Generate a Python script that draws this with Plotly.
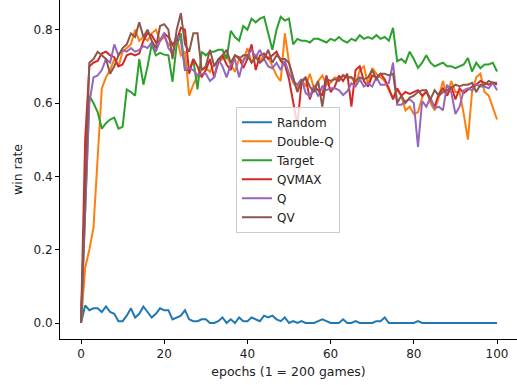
import plotly.graph_objects as go

epochs = list(range(101))

random_wr = [0, .048, .035, .04, .04, .03, .045, .03, .025, .005,
             .005, .02, .04, .015, .025, .045, .03, .015, .025, .04,
             .035, .035, .01, .015, .02, .035, .01, .005, .005, .01,
             .01, 0, 0, .005, .015, 0, .01, 0, .015, .005,
             .005, .015, .01, .005, .02, .015, .02, .01, .005, .015,
             0, .005, 0, .005, 0, 0, 0, .005, .01, .005,
             0, 0, 0, .01, 0, 0, .005, 0, 0, 0,
             0, .005, .005, .015, 0, 0, 0, 0, 0, 0,
             0, .005, 0, 0, 0, 0, 0, 0, 0, 0,
             0, 0, 0, 0, 0, 0, 0, 0, 0, 0, 0]

double_q = [0, .15, .2, .26, .45, .64, .67, .69, .72, .7,
            .74, .75, .76, .8, .77, .78, .77, .79, .8, .77,
            .78, .76, .755, .78, .73, .74, .62, .65, .675, .69,
            .695, .685, .705, .71, .72, .73, .705, .685, .72, .715,
            .75, .71, .73, .715, .73, .725, .7, .675, .66, .79,
            .71, .655, .64, .665, .645, .68, .64, .66, .675, .65,
            .655, .67, .665, .677, .668, .67, .65, .69, .7, .65,
            .695, .68, .67, .66, .635, .615, .635, .62, .58, .59,
            .57, .575, .615, .635, .6, .58, .615, .66, .62, .66,
            .63, .63, .57, .5, .63, .67, .68, .63, .62, .59, .555]

target = [0, .3, .62, .6, .575, .53, .545, .555, .56, .53,
          .535, .637, .63, .62, .72, .65, .7, .76, .73, .737,
          .732, .73, .658, .76, .79, .69, .69, .72, .637, .74,
          .73, .74, .74, .745, .745, .72, .797, .78, .77, .81,
          .8, .83, .82, .83, .835, .79, .745, .8, .835, .825,
          .83, .76, .775, .77, .77, .765, .775, .775, .77, .765,
          .775, .77, .78, .77, .765, .775, .77, .785, .775, .78,
          .775, .785, .775, .78, .77, .805, .714, .72, .71, .74,
          .72, .696, .71, .73, .71, .7, .705, .71, .7, .7,
          .695, .7, .705, .723, .686, .71, .695, .705, .705, .71, .686]

qvmax = [0, .5, .7, .71, .715, .735, .74, .73, .725, .7,
         .705, .73, .735, .73, .735, .77, .79, .785, .765, .77,
         .79, .78, .76, .77, .805, .8, .68, .72, .7, .67,
         .69, .72, .67, .71, .73, .705, .69, .73, .725, .695,
         .72, .76, .69, .73, .735, .72, .73, .74, .715, .705,
         .665, .6, .54, .655, .67, .61, .645, .635, .62, .675,
         .63, .645, .675, .66, .68, .59, .69, .7, .66, .645,
         .675, .67, .68, .665, .64, .61, .64, .62, .63, .625,
         .63, .635, .62, .63, .61, .59, .625, .64, .62, .645,
         .61, .64, .627, .635, .645, .65, .66, .655, .65, .655, .65]

q_wr = [0, .3, .6, .67, .675, .69, .72, .71, .76, .73,
        .745, .74, .75, .74, .745, .755, .75, .765, .74, .77,
        .79, .75, .735, .785, .77, .69, .695, .69, .675, .68,
        .68, .66, .67, .72, .7, .67, .705, .72, .67, .715,
        .73, .745, .725, .745, .72, .7, .695, .71, .69, .715,
        .68, .66, .65, .665, .627, .618, .645, .618, .645, .635,
        .64, .64, .635, .622, .632, .654, .645, .664, .645, .654,
        .645, .67, .65, .65, .655, .71, .595, .595, .605, .61,
        .6, .48, .605, .59, .615, .586, .59, .58, .65, .63,
        .57, .59, .635, .64, .635, .65, .645, .645, .64, .655, .635]

qv = [0, .36, .71, .72, .74, .73, .72, .68, .7, .73,
      .75, .76, .79, .78, .82, .78, .8, .77, .75, .81,
      .815, .8, .72, .8, .845, .76, .74, .79, .79, .69,
      .7, .745, .7, .72, .73, .745, .71, .73, .72, .73,
      .73, .71, .725, .71, .72, .745, .71, .73, .72, .72,
      .71, .67, .63, .66, .67, .645, .63, .66, .59, .665,
      .66, .665, .66, .675, .67, .67, .66, .67, .665, .67,
      .69, .665, .68, .68, .675, .68, .6, .62, .6, .615,
      .62, .63, .635, .635, .61, .635, .62, .63, .635, .64,
      .65, .645, .65, .65, .655, .63, .65, .65, .66, .655, .655]

series = [("Random", random_wr, "#1f77b4"),
          ("Double-Q", double_q, "#ff7f0e"),
          ("Target", target, "#2ca02c"),
          ("QVMAX", qvmax, "#d62728"),
          ("Q", q_wr, "#9467bd"),
          ("QV", qv, "#8c564b")]

fig = go.Figure()
for name, vals, col in series:
    fig.add_trace(go.Scatter(x=epochs, y=vals, mode="lines", name=name,
                             line=dict(color=col, width=2)))

axis_common = dict(showline=True, linecolor="black", linewidth=1,
                   ticks="outside", ticklen=4, tickcolor="black",
                   showgrid=False, zeroline=False,
                   tickfont=dict(family="DejaVu Sans", size=12, color="#222"))

fig.update_layout(
    width=517, height=385,
    margin=dict(l=60, r=0, t=0, b=46),
    paper_bgcolor="white", plot_bgcolor="white",
    font=dict(family="DejaVu Sans", size=12, color="#222"),
    xaxis=dict(range=[-5.05, 104.8], tickvals=[0, 20, 40, 60, 80, 100],
               title=dict(text="epochs (1 = 200 games)", standoff=6,
                          font=dict(size=12.5)), **axis_common),
    yaxis=dict(range=[-0.0436, 0.881], tickvals=[0, 0.2, 0.4, 0.6, 0.8],
               tickformat=".1f",
               title=dict(text="win rate", standoff=8, font=dict(size=12.5)),
               **axis_common),
    legend=dict(x=0.385, y=0.685, xanchor="left", yanchor="top",
                bgcolor="rgba(255,255,255,0.8)", bordercolor="#cccccc",
                borderwidth=1, itemwidth=30,
                font=dict(family="DejaVu Sans", size=12, color="#222")),
    showlegend=True,
)

fig.write_html("out.html")
